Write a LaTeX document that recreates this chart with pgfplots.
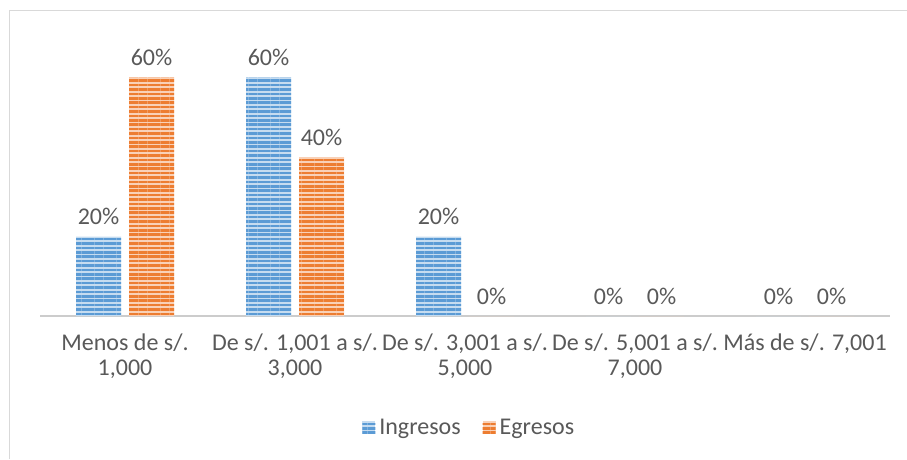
\documentclass[border=0pt]{standalone}
\usepackage{pgfplots}
\pgfplotsset{compat=1.18}
\usepackage{fontspec}
\setmainfont{Carlito}
\usetikzlibrary{patterns.meta}
\definecolor{cblue}{HTML}{5B9BD5}
\definecolor{corange}{HTML}{ED7D31}
\definecolor{txt}{HTML}{595959}
\definecolor{frame}{HTML}{D9D9D9}
\begin{document}
\begin{tikzpicture}[x=1pt,y=1pt]
\path[use as bounding box] (0,0) rectangle (907,-459);
\draw[frame,line width=1.5pt] (9.5,-459) -- (9.5,-10.5) -- (907,-10.5);
\begin{axis}[
  at={(40pt,-316pt)}, anchor=south west,
  scale only axis, width=850pt, height=278pt,
  xmin=-0.5, xmax=4.5, ymin=0, ymax=70,
  axis y line=none, axis x line*=bottom,
  x axis line style={draw=lightgray!80, line width=1.5pt, -},
  ybar, bar width=45pt,
  xtick={0,1,2,3,4}, major tick length=0pt,
  /pgf/number format/assume math mode=true,
  xticklabels={{Menos de s/.\\1,000},{De s/. 1,001 a s/.\\3,000},{De s/. 3,001 a s/.\\5,000},{De s/. 5,001 a s/.\\7,000},{Más de s/. 7,001\\\vphantom{0}}},
  xticklabel style={align=center, font=\fontsize{24}{25}\selectfont, text=txt, yshift=-14pt},
  nodes near coords={\pgfmathprintnumber{\pgfplotspointmeta}\%},
  nodes near coords style={font=\fontsize{24}{25}\selectfont, text=txt, anchor=south, yshift=8pt},
  point meta=y,
  legend style={at={(0.505,-0.403)}, anchor=center, draw=none, legend columns=2,
    font=\fontsize{24}{25}\selectfont, text=txt,
    /tikz/every odd column/.append style={column sep=2pt},
    /tikz/every even column/.append style={column sep=20pt}},
  legend image code/.code={\draw[#1, draw=none] (0pt,-6pt) rectangle (13pt,7pt);},
]
\addplot[bar shift=-26.5pt, draw=none, fill=cblue!35,
  postaction={pattern={Lines[angle=0,distance=4.4pt,line width=2.6pt]}, pattern color=cblue}]
  coordinates {(0,20) (1,60) (2,20) (3,0) (4,0)};
\addplot[bar shift=26.5pt, draw=none, fill=corange!35,
  postaction={pattern={Lines[angle=0,distance=4.4pt,line width=2.6pt]}, pattern color=corange}]
  coordinates {(0,60) (1,40) (2,0) (3,0) (4,0)};
\legend{Ingresos, Egresos}
\end{axis}
\end{tikzpicture}
\end{document}
